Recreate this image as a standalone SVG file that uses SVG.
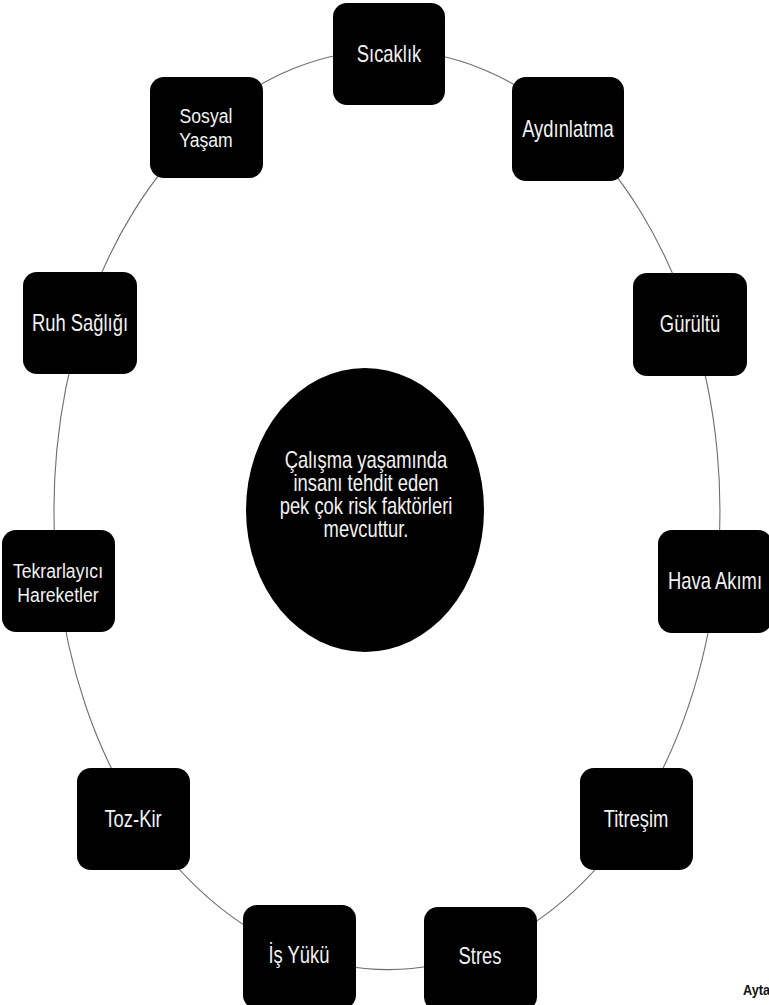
<svg xmlns="http://www.w3.org/2000/svg" width="769" height="1005" viewBox="0 0 769 1005">
<style>
.node rect{fill:#000}
.lbl{font-family:"Liberation Sans",Arial,sans-serif;font-size:23px;fill:#f2f2f2;text-anchor:middle}
.lbl2{font-family:"Liberation Sans",Arial,sans-serif;font-size:21px;fill:#f2f2f2;text-anchor:middle}
.ctr{font-family:"Liberation Sans",Arial,sans-serif;font-size:23px;fill:#f2f2f2;text-anchor:middle}
.conn path{fill:none;stroke:#6e6e6e;stroke-width:1.1}
</style>
<rect width="769" height="1005" fill="#fff"/>
<g id="connectors" class="conn">
<path d="M389,50 A333,460 0 0 1 570,125"/>
<path d="M570,125 A333,460 0 0 1 691,323"/>
<path d="M691,323 A333,460 0 0 1 716,581"/>
<path d="M716,581 A333,460 0 0 1 635,818"/>
<path d="M635,818 A333,460 0 0 1 479,952"/>
<path d="M479,952 A333,460 0 0 1 299,953"/>
<path d="M299,953 A333,460 0 0 1 137,814"/>
<path d="M137,814 A333,460 0 0 1 58,581"/>
<path d="M58,581 A333,460 0 0 1 82,325"/>
<path d="M82,325 A333,460 0 0 1 205,125"/>
<path d="M205,125 A333,460 0 0 1 389,50"/>
</g>
<g id="center">
<ellipse cx="365" cy="510" rx="119" ry="142" fill="#000"/>
<text class="ctr" transform="translate(366,468) scale(0.8,1)"><tspan x="0" y="0">Çalışma yaşamında</tspan><tspan x="0" y="23">insanı tehdit eden</tspan><tspan x="0" y="46">pek çok risk faktörleri</tspan><tspan x="0" y="69">mevcuttur.</tspan></text>
</g>
<g id="sicaklik" class="node">
<rect x="333" y="3" width="112" height="102" rx="14"/>
<text class="lbl" transform="translate(389,62) scale(0.8,1)">Sıcaklık</text>
</g>
<g id="aydinlatma" class="node">
<rect x="512" y="77" width="112" height="104" rx="14"/>
<text class="lbl" transform="translate(568,137) scale(0.8,1)">Aydınlatma</text>
</g>
<g id="sosyal" class="node">
<rect x="150" y="77" width="113" height="101" rx="14"/>
<text class="lbl2" transform="translate(206,123) scale(0.84,1)">Sosyal</text>
<text class="lbl2" transform="translate(206,146.5) scale(0.84,1)">Yaşam</text>
</g>
<g id="ruh" class="node">
<rect x="23" y="272" width="114" height="102" rx="14"/>
<text class="lbl" transform="translate(80,331) scale(0.8,1)">Ruh Sağlığı</text>
</g>
<g id="gurultu" class="node">
<rect x="633" y="273" width="114" height="103" rx="14"/>
<text class="lbl" transform="translate(690,332) scale(0.8,1)">Gürültü</text>
</g>
<g id="tekrar" class="node">
<rect x="2" y="530" width="113" height="102" rx="14"/>
<text class="lbl2" transform="translate(58,578) scale(0.84,1)">Tekrarlayıcı</text>
<text class="lbl2" transform="translate(58,601.5) scale(0.84,1)">Hareketler</text>
</g>
<g id="hava" class="node">
<rect x="658" y="530" width="114" height="103" rx="14"/>
<text class="lbl" transform="translate(715,589) scale(0.8,1)">Hava Akımı</text>
</g>
<g id="toz" class="node">
<rect x="77" y="768" width="113" height="102" rx="14"/>
<text class="lbl" transform="translate(133,827) scale(0.8,1)">Toz-Kir</text>
</g>
<g id="titresim" class="node">
<rect x="580" y="768" width="113" height="102" rx="14"/>
<text class="lbl" transform="translate(636,827) scale(0.8,1)">Titreşim</text>
</g>
<g id="isyuku" class="node">
<rect x="243" y="905" width="113" height="104" rx="14"/>
<text class="lbl" transform="translate(299,963) scale(0.8,1)">İş Yükü</text>
</g>
<g id="stres" class="node">
<rect x="424" y="907" width="113" height="104" rx="14"/>
<text class="lbl" transform="translate(480,964) scale(0.8,1)">Stres</text>
</g>
<text x="743" y="995" font-family="'Liberation Sans',Arial,sans-serif" font-weight="bold" font-size="15" fill="#111" transform="translate(743,0) scale(0.85,1) translate(-743,0)">Ayta</text>
</svg>
